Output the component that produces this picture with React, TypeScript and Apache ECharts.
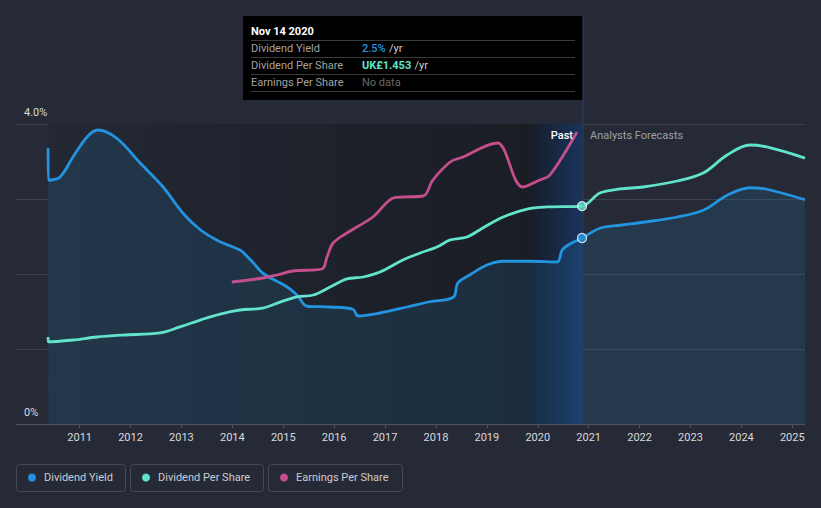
import React, { useEffect, useRef } from "react";
import * as echarts from "echarts";

// ---- data ----
const TICK_YEARS = [2011, 2012, 2013, 2014, 2015, 2016, 2017, 2018, 2019, 2020, 2021, 2022, 2023, 2024, 2025];
const Y_TICK_VALUES = [0, 4];
const Y_TICK_LABELS = ["0%", "4.0%"];

const yieldDates = [2010.38, 2010.385, 2010.61, 2010.87, 2011.15, 2011.36, 2011.73, 2012.19, 2012.64, 2013.03, 2013.37, 2013.7, 2014.15, 2014.21, 2014.41, 2014.6, 2015.07, 2015.27, 2015.47, 2015.92, 2016.37, 2016.47, 2016.9, 2017.43, 2017.88, 2018.34, 2018.43, 2018.67, 2019.0, 2019.32, 2019.85, 2020.38, 2020.48, 2020.63, 2020.87, 2021.22, 2021.62, 2022.07, 2022.74, 2023.25, 2023.72, 2024.17, 2024.5, 2025.25];
const yieldValues = [3.68, 3.25, 3.29, 3.56, 3.83, 3.92, 3.81, 3.48, 3.16, 2.81, 2.59, 2.45, 2.32, 2.29, 2.15, 2.01, 1.83, 1.72, 1.57, 1.56, 1.53, 1.44, 1.48, 1.56, 1.63, 1.69, 1.88, 1.99, 2.12, 2.17, 2.17, 2.16, 2.32, 2.4, 2.48, 2.61, 2.65, 2.69, 2.76, 2.85, 3.05, 3.15, 3.13, 2.99];

const dpsDates = [2010.38, 2010.385, 2010.87, 2011.34, 2011.85, 2012.58, 2012.97, 2013.37, 2013.76, 2014.15, 2014.6, 2014.94, 2015.27, 2015.59, 2015.92, 2016.25, 2016.57, 2016.9, 2017.35, 2017.69, 2018.02, 2018.28, 2018.61, 2018.92, 2019.32, 2019.79, 2020.18, 2020.87, 2021.22, 2021.62, 2022.07, 2022.74, 2023.25, 2023.72, 2024.17, 2024.5, 2025.25];
const dpsValues = [0.58, 0.547, 0.56, 0.58, 0.593, 0.607, 0.647, 0.693, 0.733, 0.76, 0.773, 0.813, 0.847, 0.86, 0.913, 0.967, 0.98, 1.013, 1.093, 1.14, 1.18, 1.227, 1.247, 1.307, 1.38, 1.433, 1.447, 1.453, 1.54, 1.567, 1.58, 1.62, 1.673, 1.793, 1.86, 1.847, 1.773];

const epsDates = [2013.99, 2014.6, 2014.88, 2015.19, 2015.76, 2015.86, 2015.98, 2016.25, 2016.76, 2017.16, 2017.35, 2017.75, 2017.94, 2018.28, 2018.53, 2019.22, 2019.32, 2019.71, 2020.04, 2020.24, 2020.77];
const epsValues = [2.84, 2.92, 2.98, 3.06, 3.1, 3.34, 3.62, 3.82, 4.14, 4.52, 4.54, 4.56, 4.88, 5.24, 5.34, 5.62, 5.52, 4.74, 4.88, 4.98, 5.84];

const PAST_START = 2010.38;
const HIGHLIGHT_START = 2019.87;
const CURRENT_DATE = 2020.87;

const LEGEND_NAMES = ["Dividend Yield", "Dividend Per Share", "Earnings Per Share"];

// ---- styles ----
const BG = "#262a36";
const BLUE = "#2394df";
const TEAL = "#62e3cb";
const PINK = "#c44f8c";
const FONT = "Roboto, 'Noto Sans', sans-serif";

const zip = (xs: number[], ys: number[]) => xs.map((x, i) => [x, ys[i]]);

export default function App() {
  const ref = useRef<HTMLDivElement>(null);

  useEffect(() => {
    document.body.style.margin = "0";
    document.body.style.background = BG;
    const chart = echarts.init(ref.current!, null, { renderer: "svg" });

    const yieldData = zip(yieldDates, yieldValues);
    const dpsData = zip(dpsDates, dpsValues);
    const epsData = zip(epsDates, epsValues);
    const curYield = yieldValues[yieldDates.indexOf(CURRENT_DATE)];
    const curDps = dpsValues[dpsDates.indexOf(CURRENT_DATE)];

    const legendBoxes = [
      { x: 16, w: 109, color: BLUE },
      { x: 130, w: 133, color: TEAL },
      { x: 268, w: 134, color: PINK },
    ];

    const legendGraphics: any[] = [];
    legendBoxes.forEach((b, i) => {
      legendGraphics.push({
        type: "rect",
        shape: { x: b.x + 0.5, y: 464.5, width: b.w, height: 27, r: 3 },
        style: { fill: "none", stroke: "#434957", lineWidth: 1 },
      });
      legendGraphics.push({
        type: "circle",
        shape: { cx: b.x + 16, cy: 477.5, r: 4 },
        style: { fill: b.color },
      });
      legendGraphics.push({
        type: "text",
        x: b.x + 28,
        y: 477.5,
        style: {
          text: LEGEND_NAMES[i],
          fill: "#c9ccd2",
          font: `11px ${FONT}`,
          verticalAlign: "middle",
          align: "left",
        },
      });
    });

    const rowY = [48.5, 65.5, 82.5];
    const sepY = [40.5, 57.5, 74.5, 91.5];

    const lineCommon = {
      type: "line",
      showSymbol: false,
      smooth: 0.35,
    };

    chart.setOption({
      animation: false,
      backgroundColor: BG,
      grid: { left: 16, right: 16, top: 124, bottom: 84, containLabel: false, outerBoundsMode: "none" },
      xAxis: {
        type: "value",
        min: 2009.75,
        max: 2025.25,
        axisLine: { show: true, lineStyle: { color: "#4f545f", width: 1 } },
        axisTick: { show: true, customValues: TICK_YEARS, length: 4, lineStyle: { color: "#4f545f" } },
        axisLabel: {
          customValues: TICK_YEARS,
          color: "#d8dade",
          fontSize: 11,
          fontFamily: FONT,
          margin: 8,
          formatter: (v: number) => String(v),
        },
        splitLine: { show: false },
      },
      yAxis: [
        {
          type: "value",
          min: 0,
          max: 4,
          interval: 1,
          axisLine: { show: false },
          axisTick: { show: false },
          splitLine: { show: true, lineStyle: { color: "#3b404c", width: 1 } },
          axisLabel: {
            inside: true,
            margin: 8,
            color: "#d8dade",
            fontSize: 11,
            fontFamily: FONT,
            verticalAlign: "bottom",
            padding: [0, 0, 6, 0],
            formatter: (v: number) => {
              const i = Y_TICK_VALUES.indexOf(v);
              return i >= 0 ? Y_TICK_LABELS[i] : "";
            },
          },
        },
        { type: "value", min: 0, max: 2, show: false },
        { type: "value", min: 0, max: 6, show: false },
      ],
      series: [
        {
          type: "line",
          data: [],
          z: 1,
          silent: true,
          markArea: {
            silent: true,
            data: [
              [
                {
                  xAxis: PAST_START,
                  itemStyle: {
                    color: new echarts.graphic.LinearGradient(0, 0, 1, 0, [
                      { offset: 0, color: "#232834" },
                      { offset: 1, color: "#1a1d24" },
                    ]),
                  },
                },
                { xAxis: HIGHLIGHT_START },
              ],
              [
                {
                  xAxis: HIGHLIGHT_START,
                  itemStyle: {
                    color: new echarts.graphic.LinearGradient(0, 0, 1, 0, [
                      { offset: 0, color: "#171d2a" },
                      { offset: 1, color: "#19345c" },
                    ]),
                  },
                },
                { xAxis: CURRENT_DATE },
              ],
            ],
          },
        },
        {
          ...lineCommon,
          name: LEGEND_NAMES[0],
          yAxisIndex: 0,
          data: yieldData,
          z: 3,
          lineStyle: { color: BLUE, width: 2.8 },
          areaStyle: { color: "rgba(35,148,223,0.2)" },
        },
        {
          ...lineCommon,
          name: LEGEND_NAMES[1],
          yAxisIndex: 1,
          data: dpsData,
          z: 4,
          lineStyle: { color: TEAL, width: 2.8 },
        },
        {
          ...lineCommon,
          name: LEGEND_NAMES[2],
          yAxisIndex: 2,
          data: epsData,
          z: 4,
          lineStyle: { color: PINK, width: 2.8 },
        },
        {
          type: "scatter",
          yAxisIndex: 0,
          z: 6,
          data: [[CURRENT_DATE, curYield]],
          symbolSize: 9,
          itemStyle: { color: BLUE, borderColor: "#ffffff", borderWidth: 1.2 },
        },
        {
          type: "scatter",
          yAxisIndex: 1,
          z: 6,
          data: [[CURRENT_DATE, curDps]],
          symbolSize: 9,
          itemStyle: { color: TEAL, borderColor: "#ffffff", borderWidth: 1.2 },
        },
      ],
      graphic: [
        {
          type: "line",
          z: 5,
          shape: { x1: 583, y1: 16, x2: 583, y2: 424 },
          style: { stroke: "#22406b", lineWidth: 1 },
        },
        {
          type: "text",
          z: 5,
          x: 573,
          y: 135,
          style: { text: "Past", fill: "#ffffff", font: `500 11px ${FONT}`, align: "right", verticalAlign: "middle" },
        },
        {
          type: "text",
          z: 5,
          x: 590,
          y: 135,
          style: { text: "Analysts Forecasts", fill: "#9ca0a8", font: `11px ${FONT}`, align: "left", verticalAlign: "middle" },
        },
        {
          type: "group",
          z: 10,
          children: [
            {
              type: "rect",
              shape: { x: 243, y: 16, width: 340, height: 84 },
              style: { fill: "#000000" },
            },
            {
              type: "text",
              x: 251,
              y: 31.5,
              style: { text: "Nov 14 2020", fill: "#ffffff", font: `bold 11px ${FONT}`, verticalAlign: "middle" },
            },
            ...sepY.map((y) => ({
              type: "line",
              shape: { x1: 251, y1: y, x2: 575, y2: y },
              style: { stroke: "#3a3a3a", lineWidth: 1 },
            })),
            ...["Dividend Yield", "Dividend Per Share", "Earnings Per Share"].map((t, i) => ({
              type: "text",
              x: 251,
              y: rowY[i],
              style: { text: t, fill: "#a3a3a3", font: `11px ${FONT}`, verticalAlign: "middle" },
            })),
            {
              type: "text",
              x: 362,
              y: rowY[0],
              style: {
                text: "{a|2.5%} {b|/yr}",
                verticalAlign: "middle",
                rich: {
                  a: { fill: BLUE, font: `500 11px ${FONT}` },
                  b: { fill: "#cfcfcf", font: `11px ${FONT}` },
                },
              },
            },
            {
              type: "text",
              x: 362,
              y: rowY[1],
              style: {
                text: "{a|UK£1.453} {b|/yr}",
                verticalAlign: "middle",
                rich: {
                  a: { fill: TEAL, font: `bold 11px ${FONT}` },
                  b: { fill: "#cfcfcf", font: `11px ${FONT}` },
                },
              },
            },
            {
              type: "text",
              x: 362,
              y: rowY[2],
              style: { text: "No data", fill: "#6a6a6a", font: `11px ${FONT}`, verticalAlign: "middle" },
            },
          ],
        },
        ...legendGraphics,
      ],
    });

    return () => chart.dispose();
  }, []);

  return (
    <div
      ref={ref}
      style={{ position: "fixed", left: 0, top: 0, width: 821, height: 508, background: BG }}
    />
  );
}
